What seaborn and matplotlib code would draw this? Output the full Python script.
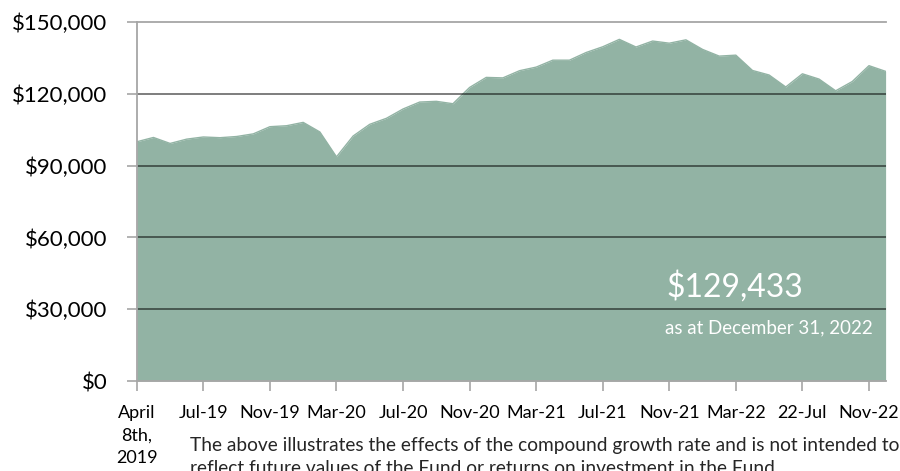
import numpy as np
import pandas as pd
import matplotlib
matplotlib.use("Agg")
import matplotlib.pyplot as plt
import seaborn as sns

# month-end values of a $100,000 investment, first point is April 8th 2019
values = [100000, 101800, 99300, 101100, 102000, 101700, 102200, 103300,
          106300, 106700, 108100, 104100, 93700, 102400, 107300, 109800,
          113700, 116600, 116900, 115900, 122700, 126900, 126700, 129700,
          131200, 134100, 134100, 137300, 139700, 142800, 139600, 142100,
          141200, 142600, 138600, 135800, 136200, 129800, 127900, 122900,
          128400, 126200, 121300, 125200, 131800, 129433]

tick_labels = ["April\n8th,\n2019", "Jul-19", "Nov-19", "Mar-20", "Jul-20",
               "Nov-20", "Mar-21", "Jul-21", "Nov-21", "Mar-22", "22-Jul",
               "Nov-22"]
y_ticks = [0, 30000, 60000, 90000, 120000, 150000]

final_value = "$129,433"
final_date = "as at December 31, 2022"
footnote = ("The above illustrates the effects of the compound growth rate and is not intended to\n"
            "reflect future values of the Fund or returns on investment in the Fund.")

df = pd.DataFrame({"step": np.arange(len(values)), "value": values})

sns.set_theme(style="white")
plt.rcParams["font.family"] = ["Lato", "DejaVu Sans"]

fill_col = "#92b3a4"
axis_col = "#a6a6a6"

fig = plt.figure(figsize=(9, 4.71), dpi=100)
ax = fig.add_axes([0.152, 0.191, 0.832, 0.762])

ax.fill_between(df["step"], df["value"], 0, color=fill_col, lw=0, zorder=1)
sns.lineplot(data=df, x="step", y="value", color=fill_col, lw=1, ax=ax, zorder=2)

# gridlines drawn over the area
for v in y_ticks[1:-1]:
    ax.axhline(v, color="black", alpha=0.55, lw=1.3, zorder=3)

ax.set_xlim(0, len(values) - 1)
ax.set_ylim(0, 150000)
ax.set_yticks(y_ticks)
ax.set_yticklabels([f"${v:,.0f}" for v in y_ticks], fontsize=16)
ax.set_xticks(np.arange(0, len(values), 4))
ax.set_xticklabels(tick_labels, fontsize=13, linespacing=1.5, va="top")
ax.set_xlabel("")
ax.set_ylabel("")

for side in ["left", "top", "bottom"]:
    ax.spines[side].set_color(axis_col)
    ax.spines[side].set_linewidth(1.3)
    ax.spines[side].set_zorder(4)
ax.spines["right"].set_visible(False)
ax.tick_params(axis="both", direction="out", length=7, width=1.2,
               color=axis_col, colors="black", bottom=True, left=True)
ax.tick_params(axis="y", pad=14, labelcolor="black")
ax.tick_params(axis="x", pad=10, labelcolor="black")

ax.text(0.707, 0.22, final_value, transform=ax.transAxes, color="white",
        fontsize=23, ha="left", va="bottom", zorder=5)
ax.text(0.705, 0.125, final_date, transform=ax.transAxes, color="white",
        fontsize=13.5, ha="left", va="bottom", zorder=5)

fig.text(0.211, 0.03, footnote, fontsize=13.8, ha="left", va="center",
         linespacing=1.4, family=["Lato", "DejaVu Sans"])

fig.savefig("out.png", dpi=100)
